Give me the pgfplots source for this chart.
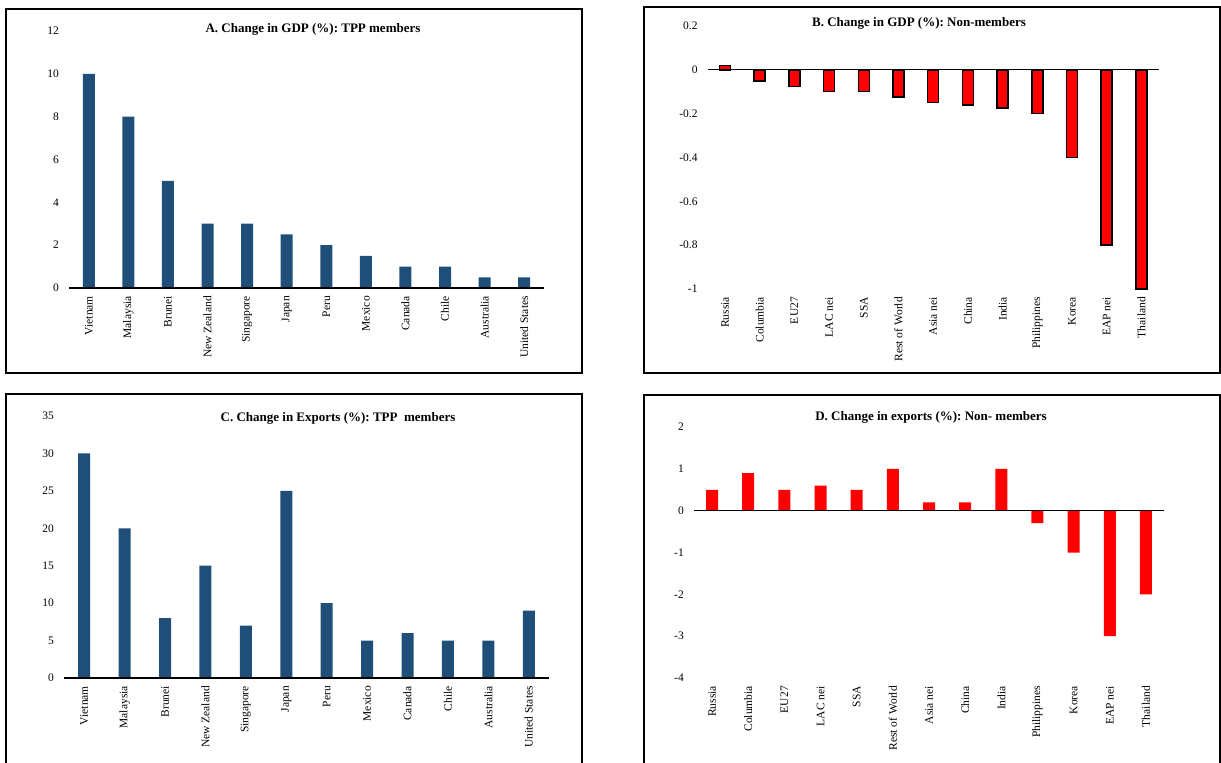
\documentclass[border=0pt]{standalone}
\usepackage{fontspec}
\setmainfont{Liberation Serif}
\usepackage{pgfplots}
\pgfplotsset{compat=1.18}
\frenchspacing
\definecolor{tppblue}{HTML}{1F4E79}
\definecolor{nonred}{HTML}{FF0000}
\pgfplotsset{
  panel/.style={
    scale only axis, anchor=south west, clip=false,
    axis line style={draw=none},
    major tick length=0pt, xtick style={draw=none}, ytick style={draw=none},
    xtick=data, ybar, bar width=12pt,
    tick label style={font=\fontsize{11.5}{12}\selectfont},
    /pgf/number format/assume math mode=true,
    yticklabel style={anchor=east, inner xsep=10pt, inner ysep=0pt},
    xticklabel style={rotate=90, anchor=east, inner xsep=8pt, inner ysep=0pt},
  }
}
\begin{document}
\begin{tikzpicture}
\begin{scope}[x=1pt,y=1pt]
\useasboundingbox (0,0) rectangle (1221,763);
% panel frames
\draw[line width=1.6pt] (6,754) rectangle (582,390);
\draw[line width=1.6pt] (644,756) rectangle (1220,390);
\draw[line width=1.6pt] (6,-5) -- (6,369) -- (582,369) -- (582,-5);
\draw[line width=1.6pt] (644,-5) -- (644,368) -- (1220,368) -- (1220,-5);
\node[font=\bfseries\fontsize{13}{14}\selectfont] at (313,734) {A. Change in GDP (\%): TPP members};
\node[font=\bfseries\fontsize{13}{14}\selectfont] at (919,740) {B. Change in GDP (\%): Non-members};
\node[font=\bfseries\fontsize{13}{14}\selectfont] at (338,345) {C. Change in Exports (\%): TPP\ \ members};
\node[font=\bfseries\fontsize{13}{14}\selectfont] at (931,346) {D. Change in exports (\%): Non- members};
\end{scope}

% A
\begin{axis}[panel, at={(69pt,475pt)}, width=475pt, height=257pt,
  xmin=-0.5, xmax=11.5, ymin=0, ymax=12, ytick={0,2,4,6,8,10,12},
  xticklabels={Vietnam,Malaysia,Brunei,New Zealand,Singapore,Japan,Peru,Mexico,Canada,Chile,Australia,United States}]
\addplot[fill=tppblue, draw=none] coordinates {(0,10) (1,8) (2,5) (3,3) (4,3) (5,2.5) (6,2) (7,1.5) (8,1) (9,1) (10,0.5) (11,0.5)};
\draw[line width=1.3pt] (axis cs:-0.5,0) -- (axis cs:11.5,0);
\end{axis}

% B
\begin{axis}[panel, at={(707.7pt,474pt)}, width=451pt, height=263pt, bar width=11pt,
  xmin=-0.5, xmax=12.5, ymin=-1, ymax=0.2, ytick={-1,-0.8,-0.6,-0.4,-0.2,0,0.2},
  xticklabels={Russia,Columbia,EU27,LAC nei,SSA,Rest of World,Asia nei,China,India,Philippines,Korea,EAP nei,Thailand}]
\addplot[fill=nonred, draw=black, line width=1.5pt] coordinates {(0,0.02) (1,-0.05) (2,-0.075) (3,-0.1) (4,-0.1) (5,-0.125) (6,-0.15) (7,-0.16) (8,-0.175) (9,-0.2) (10,-0.4) (11,-0.8) (12,-1)};
\draw[line width=1.3pt] (axis cs:-0.5,0) -- (axis cs:12.5,0);
\end{axis}

% C
\begin{axis}[panel, at={(64pt,85pt)}, width=485pt, height=262pt,
  xmin=-0.5, xmax=11.5, ymin=0, ymax=35, ytick={0,5,10,15,20,25,30,35},
  xticklabels={Vietnam,Malaysia,Brunei,New Zealand,Singapore,Japan,Peru,Mexico,Canada,Chile,Australia,United States}]
\addplot[fill=tppblue, draw=none] coordinates {(0,30) (1,20) (2,8) (3,15) (4,7) (5,25) (6,10) (7,5) (8,6) (9,5) (10,5) (11,9)};
\draw[line width=1.3pt] (axis cs:-0.5,0) -- (axis cs:11.5,0);
\end{axis}

% D
\begin{axis}[panel, at={(694pt,85pt)}, width=470pt, height=251pt,
  xmin=-0.5, xmax=12.5, ymin=-4, ymax=2, ytick={-4,-3,-2,-1,0,1,2},
  xticklabels={Russia,Columbia,EU27,LAC nei,SSA,Rest of World,Asia nei,China,India,Philippines,Korea,EAP nei,Thailand}]
\addplot[fill=nonred, draw=none] coordinates {(0,0.5) (1,0.9) (2,0.5) (3,0.6) (4,0.5) (5,1) (6,0.2) (7,0.2) (8,1) (9,-0.3) (10,-1) (11,-3) (12,-2)};
\draw[line width=1.3pt] (axis cs:-0.5,0) -- (axis cs:12.5,0);
\end{axis}
\end{tikzpicture}
\end{document}
